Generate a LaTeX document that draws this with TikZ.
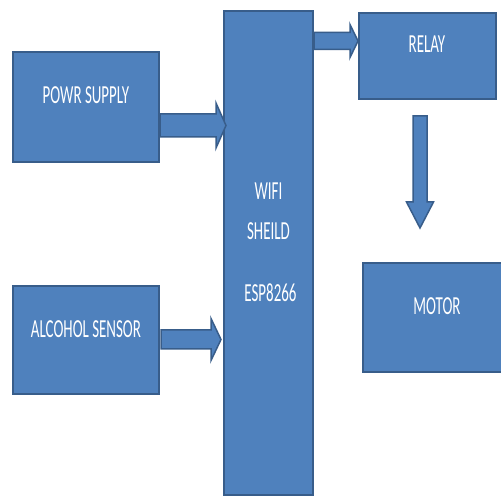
\documentclass[tikz,border=0pt]{standalone}
\usepackage{fontspec}
\setmainfont{Carlito}
\usetikzlibrary{calc}
\definecolor{boxfill}{HTML}{4F81BD}
\definecolor{boxline}{HTML}{385D8A}
\tikzset{
  blk/.style={draw=boxline, fill=boxfill, line width=2pt, rectangle, inner sep=0pt},
  lbl/.style={anchor=base, inner sep=0pt, text=white, font=\fontsize{26}{26}\selectfont},
  arr/.style={draw=boxline, fill=boxfill, line width=1.5pt, line join=miter}
}
\newcommand\lbltext[1]{\scalebox{0.575}[1]{#1}}
% from, to, shaft half, head half, head length
\newcommand\blockarrow[5]{%
  \coordinate (ba-n) at ($(#2)!#5!(#1)$);
  \filldraw[arr] ($(#1)!#3!90:(#2)$) -- ($(ba-n)!#3!-90:(#1)$) -- ($(ba-n)!#4!-90:(#1)$) -- (#2)
    -- ($(ba-n)!#4!90:(#1)$) -- ($(ba-n)!#3!90:(#1)$) -- ($(#1)!#3!-90:(#2)$) -- cycle;}
\begin{document}
\begin{tikzpicture}[x=1pt,y=1pt]
\useasboundingbox (0,0) rectangle (501,496);
\clip (0,0) rectangle (501,496);
\fill[white] (0,0) rectangle (501,496);
% boxes
\node[blk, minimum width=146pt, minimum height=110pt] (ps) at (86,389) {};
\node[blk, minimum width=146pt, minimum height=108pt] (as) at (86,156) {};
\node[blk, minimum width=89pt, minimum height=484pt] (wifi) at (268.5,243) {};
\node[blk, minimum width=137pt, minimum height=86pt] (relay) at (427.5,440) {};
\node[blk, minimum width=148pt, minimum height=109pt] (motor) at (437,178.5) {};
% labels
\node[lbl] (tps) at (86,392) {\lbltext{POWR SUPPLY}};
\node[lbl] (tas) at (86,158) {\lbltext{ALCOHOL SENSOR}};
\node[lbl] (trelay) at (427,443.5) {\lbltext{RELAY}};
\node[lbl] (tmotor) at (437,181) {\lbltext{MOTOR}};
\node[lbl] (twifi) at (268.5,296) {\lbltext{WIFI}};
\node[lbl] (tsheild) at (268.5,256) {\lbltext{SHEILD}};
\node[lbl] (tesp) at (270.5,194) {\lbltext{ESP8266}};
% connector end points
\coordinate (a1s) at (ps.east |- 0,370.5);
\coordinate (a1e) at ($(wifi.west |- 0,370.5)+(3,0)$);
\coordinate (a2s) at ($(as.east |- 0,156.5)+(1,0)$);
\coordinate (a2e) at ($(wifi.west |- 0,156.5)+(-2,0)$);
\coordinate (a3s) at (wifi.east |- 0,455);
\coordinate (a3e) at (relay.west |- 0,455);
\coordinate (a4s) at ($(relay.south -| 420,0)+(0,-16)$);
\coordinate (a4e) at ($(motor.north -| 420,0)+(0,34)$);
% block arrows
\blockarrow{a1s}{a1e}{11.5pt}{22.5pt}{10pt}
\blockarrow{a2s}{a2e}{9.5pt}{21pt}{10pt}
\blockarrow{a3s}{a3e}{8.5pt}{16.5pt}{8pt}
\blockarrow{a4s}{a4e}{7pt}{13.5pt}{26pt}
\end{tikzpicture}
\end{document}
